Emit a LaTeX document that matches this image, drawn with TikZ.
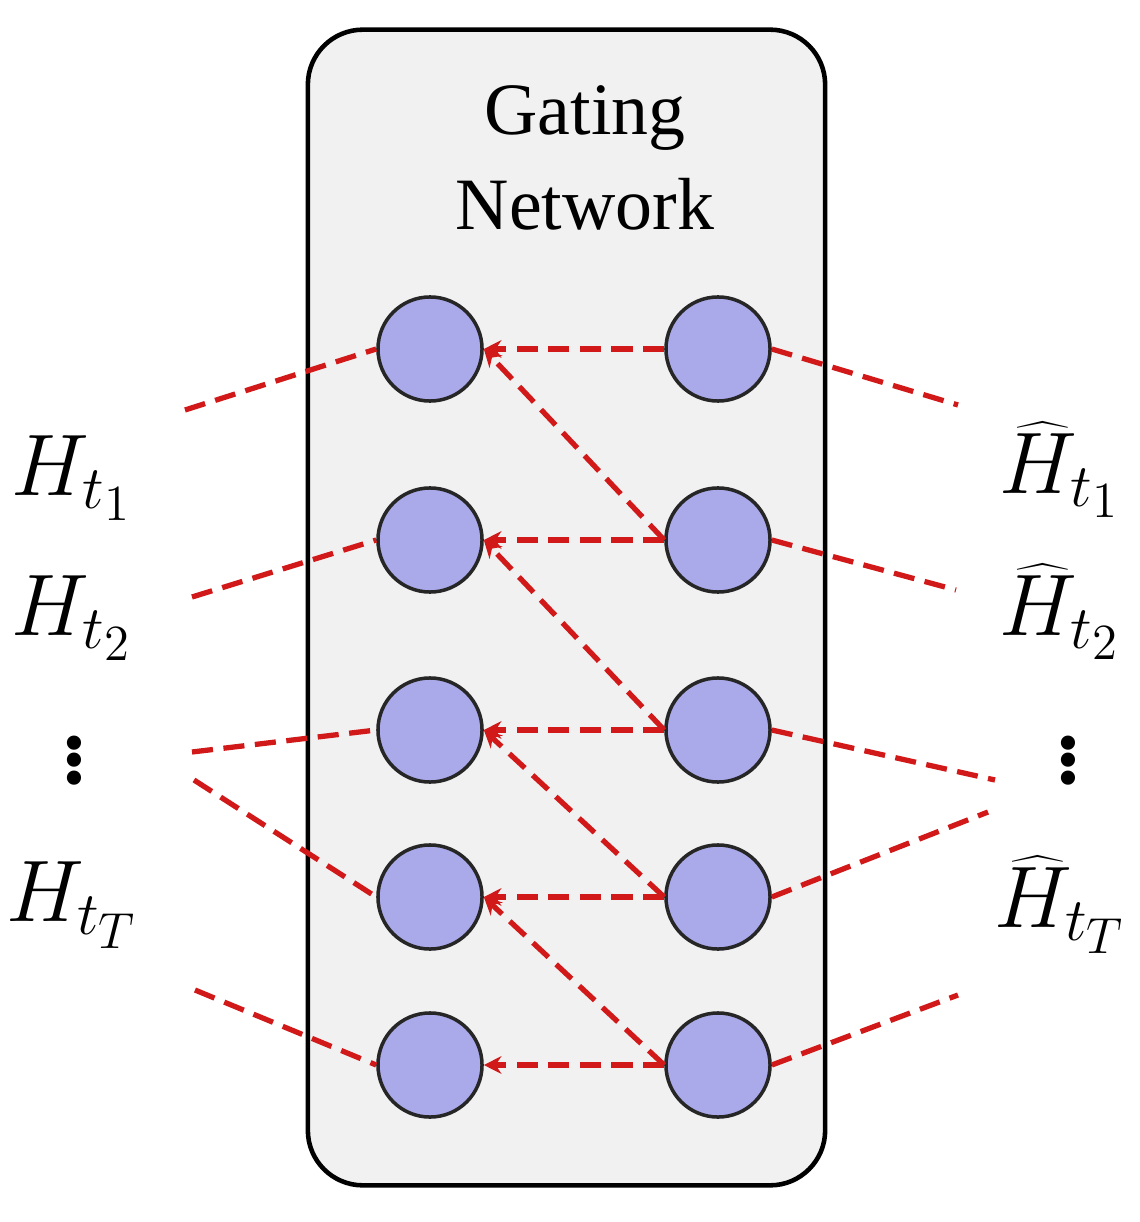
\documentclass[tikz,border=0pt]{standalone}
\usepackage{fontspec}
\setmainfont{Liberation Serif}
\usetikzlibrary{arrows.meta}
\begin{document}
\begin{tikzpicture}[x=0.01cm,y=-0.01cm,
  neuron/.style={circle,draw=black!85,line width=1pt,fill={rgb,255:red,170;green,170;blue,235},minimum size=1.04cm,inner sep=0pt},
  link/.style={draw={rgb,255:red,210;green,25;blue,25},line width=1.5pt,dash pattern=on 6pt off 3pt},
  arr/.style={link,-{Stealth[length=5pt,width=5pt]}},
  lab/.style={font=\fontsize{27}{30}\selectfont,inner sep=1pt},
  dots/.style={font=\fontsize{34}{36}\selectfont,inner sep=0pt}]
\useasboundingbox (0,0) rectangle (1139,1222);
\node[draw,line width=1.3pt,fill={rgb,255:red,241;green,241;blue,241},rounded corners=0.55cm,minimum width=5.17cm,minimum height=11.55cm] (box) at (566.5,607.5) {};
\node[font=\fontsize{21}{27}\selectfont,align=center] (title) at (585,158) {Gating\\Network};
\foreach \i/\y in {1/349,2/540,3/730,4/897,5/1065}{
  \node[neuron] (L\i) at (430,\y) {};
  \node[neuron] (R\i) at (718,\y) {};
}
\foreach \i in {1,...,5}{\draw[arr] (R\i.west) -- (L\i.east);}
\foreach \i/\j in {1/2,2/3,3/4,4/5}{\draw[arr] (R\j.west) -- (L\i.east);}
\coordinate (a1) at (185,410); \coordinate (a2) at (192,597);
\coordinate (a3) at (192,752); \coordinate (a4) at (194,780);
\coordinate (a5) at (195,990);
\coordinate (b1) at (958,405); \coordinate (b2) at (956,590);
\coordinate (b3) at (995,780); \coordinate (b4) at (988,812);
\coordinate (b5) at (958,995);
\draw[link] (a1) -- (L1.west);
\draw[link] (a2) -- (L2.west);
\draw[link] (a3) -- (L3.west);
\draw[link] (a4) -- (L4.west);
\draw[link] (a5) -- (L5.west);
\foreach \i in {1,...,5}{\draw[link] (R\i.east) -- (b\i);}
\node[lab] (h1) at (72,478) {$H_{t_1}$};
\node[lab] (h2) at (72,618) {$H_{t_2}$};
\node[dots] (h3) at (74,750) {$\vdots$};
\node[lab] (h4) at (72,905) {$H_{t_T}$};
\node[lab] (g1) at (1060,470) {$\widehat{H}_{t_1}$};
\node[lab] (g2) at (1060,612) {$\widehat{H}_{t_2}$};
\node[dots] (g3) at (1068,750) {$\vdots$};
\node[lab] (g4) at (1060,905) {$\widehat{H}_{t_T}$};
\end{tikzpicture}
\end{document}
